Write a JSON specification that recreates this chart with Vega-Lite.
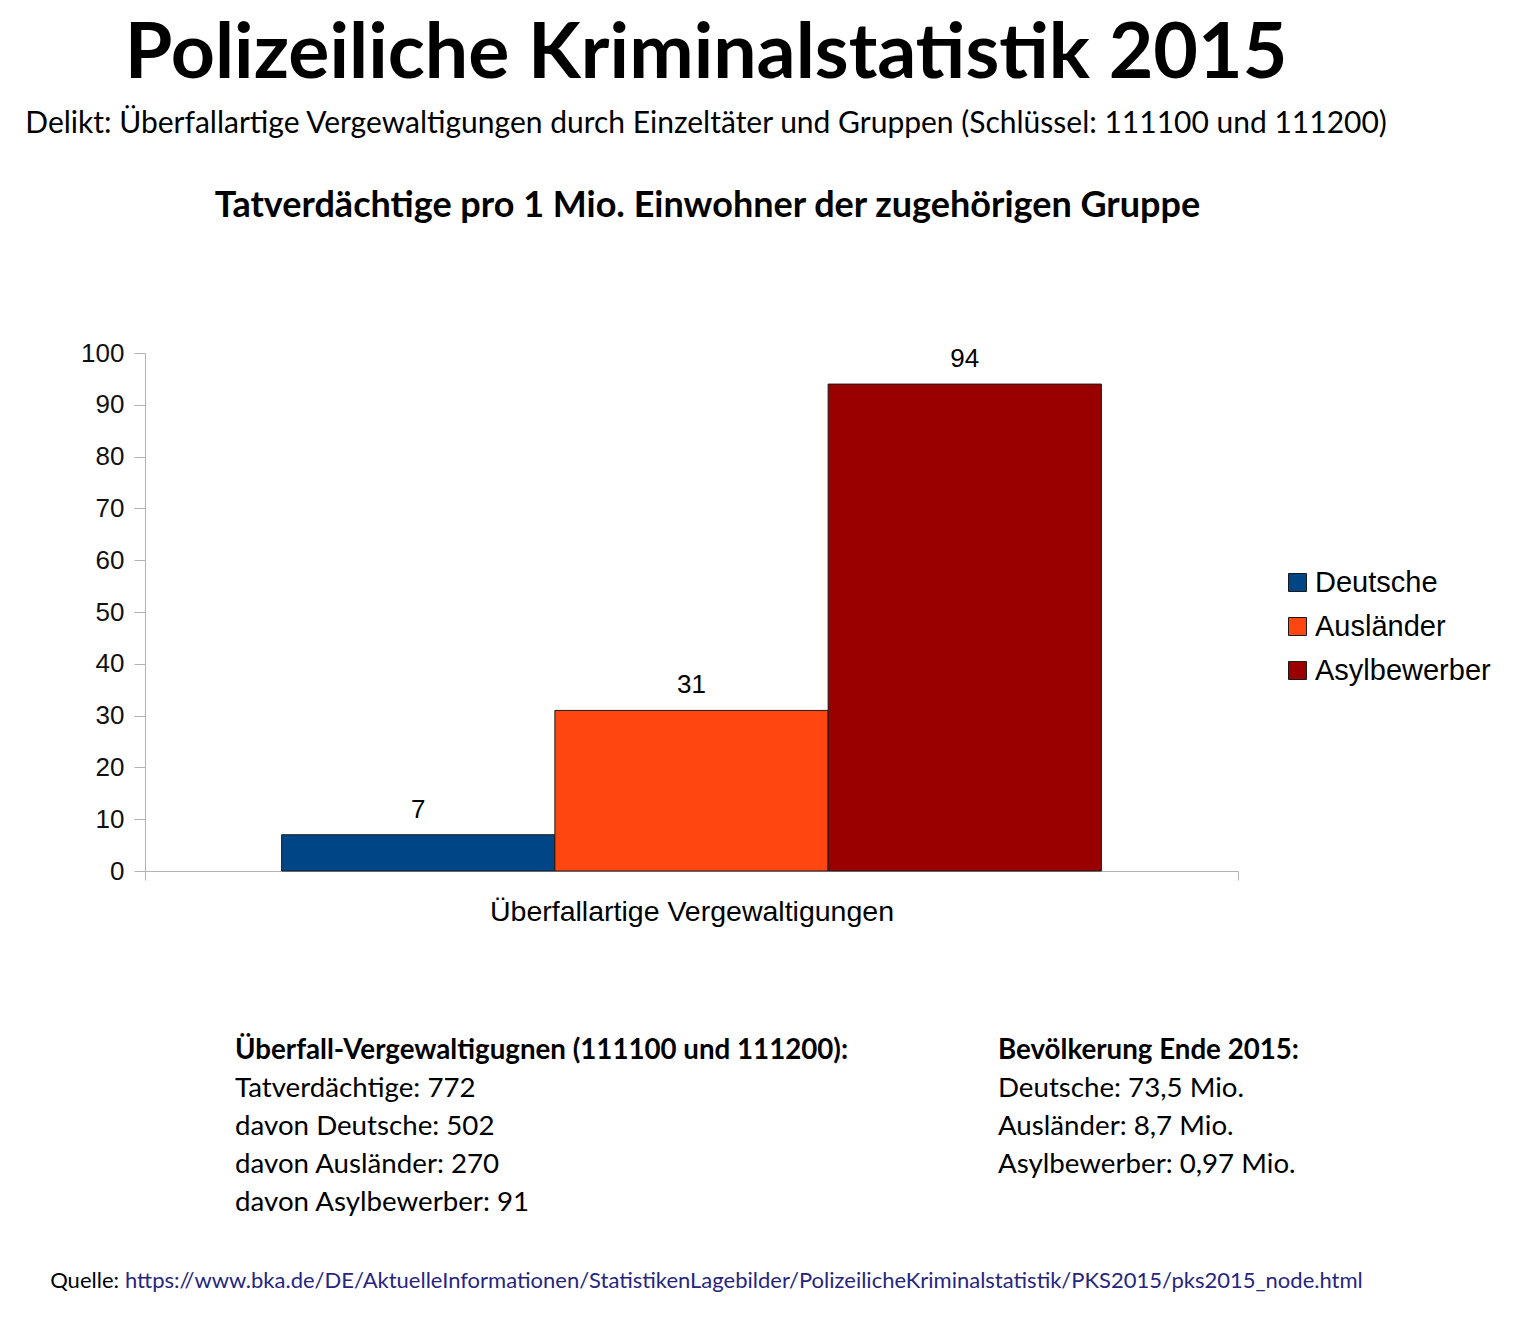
{
  "$schema": "https://vega.github.io/schema/vega-lite/v6.json",
  "background": "white",
  "padding": {"left": 24, "top": 16, "right": 10, "bottom": 10},
  "title": {
    "text": "Polizeiliche Kriminalstatistik 2015",
    "subtitle": "Delikt: Überfallartige Vergewaltigungen durch Einzeltäter und Gruppen (Schlüssel: 111100 und 111200)",
    "anchor": "middle",
    "dx": -64.5,
    "font": "Lato",
    "fontSize": 77,
    "fontWeight": "bold",
    "color": "#000000",
    "subtitleFont": "Lato",
    "subtitleFontSize": 30,
    "subtitleColor": "#000000",
    "subtitlePadding": 15,
    "offset": 48
  },
  "spacing": 38,
  "vconcat": [
    {
      "width": 1093,
      "height": 518,
      "title": {
        "text": "Tatverdächtige pro 1 Mio. Einwohner der zugehörigen Gruppe",
        "frame": "group",
        "anchor": "middle",
        "dx": 16,
        "font": "Lato",
        "fontSize": 36,
        "fontWeight": "bold",
        "color": "#000000",
        "offset": 115
      },
      "data": {
        "values": [
          {"kategorie": "Überfallartige Vergewaltigungen", "gruppe": "Deutsche", "wert": 7},
          {"kategorie": "Überfallartige Vergewaltigungen", "gruppe": "Ausländer", "wert": 31},
          {"kategorie": "Überfallartige Vergewaltigungen", "gruppe": "Asylbewerber", "wert": 94}
        ]
      },
      "encoding": {
        "x": {
          "field": "kategorie",
          "type": "nominal",
          "scale": {"paddingInner": 0, "paddingOuter": 0},
          "axis": {
            "title": null,
            "labelAngle": 0,
            "labelFont": "Liberation Sans",
            "labelFontSize": 28.5,
            "labelColor": "#000000",
            "labelPadding": 17,
            "labelLimit": 800,
            "tickBand": "extent",
            "tickSize": 9,
            "tickColor": "#b3b3b3",
            "domainColor": "#b3b3b3"
          }
        },
        "xOffset": {
          "field": "gruppe",
          "type": "nominal",
          "sort": ["Deutsche", "Ausländer", "Asylbewerber"],
          "scale": {"paddingInner": 0, "paddingOuter": 0.5}
        },
        "y": {
          "field": "wert",
          "type": "quantitative",
          "scale": {"domain": [0, 100]},
          "axis": {
            "title": null,
            "values": [0, 10, 20, 30, 40, 50, 60, 70, 80, 90, 100],
            "grid": false,
            "labelFont": "Liberation Sans",
            "labelFontSize": 26,
            "labelColor": "#111111",
            "labelPadding": 10,
            "tickSize": 11,
            "tickColor": "#b3b3b3",
            "domainColor": "#b3b3b3"
          }
        }
      },
      "layer": [
        {
          "mark": {"type": "bar", "stroke": "#1a1a1a", "strokeWidth": 1},
          "encoding": {
            "color": {
              "field": "gruppe",
              "type": "nominal",
              "sort": ["Deutsche", "Ausländer", "Asylbewerber"],
              "scale": {
                "domain": ["Deutsche", "Ausländer", "Asylbewerber"],
                "range": ["#004586", "#ff4510", "#990000"]
              },
              "legend": {
                "title": null,
                "orient": "none",
                "legendX": 1138,
                "legendY": 215,
                "padding": 0,
                "symbolType": "square",
                "symbolSize": 324,
                "symbolStrokeColor": "#1a1a1a",
                "symbolStrokeWidth": 1,
                "symbolOpacity": 1,
                "labelFont": "Liberation Sans",
                "labelFontSize": 29,
                "labelColor": "#000000",
                "labelOffset": 3,
                "labelLimit": 400,
                "rowPadding": 14
              }
            }
          }
        },
        {
          "mark": {
            "type": "text",
            "baseline": "bottom",
            "dy": -12,
            "font": "Liberation Sans",
            "fontSize": 26,
            "color": "#000000"
          },
          "encoding": {
            "text": {"field": "wert", "type": "quantitative"}
          }
        }
      ]
    },
    {
      "width": 943,
      "height": 258.5,
      "data": {
        "values": [
          {"spalte": "Fälle", "zeile": 1, "kopf": true, "text": "Überfall-Vergewaltigugnen (111100 und 111200):"},
          {"spalte": "Fälle", "zeile": 2, "kopf": false, "text": "Tatverdächtige: 772"},
          {"spalte": "Fälle", "zeile": 3, "kopf": false, "text": "davon Deutsche: 502"},
          {"spalte": "Fälle", "zeile": 4, "kopf": false, "text": "davon Ausländer: 270"},
          {"spalte": "Fälle", "zeile": 5, "kopf": false, "text": "davon Asylbewerber: 91"},
          {"spalte": "Bevölkerung", "zeile": 1, "kopf": true, "text": "Bevölkerung Ende 2015:"},
          {"spalte": "Bevölkerung", "zeile": 2, "kopf": false, "text": "Deutsche: 73,5 Mio."},
          {"spalte": "Bevölkerung", "zeile": 3, "kopf": false, "text": "Ausländer: 8,7 Mio."},
          {"spalte": "Bevölkerung", "zeile": 4, "kopf": false, "text": "Asylbewerber: 0,97 Mio."}
        ]
      },
      "encoding": {
        "x": {
          "field": "spalte",
          "type": "nominal",
          "sort": ["Fälle", "Bevölkerung"],
          "scale": {"type": "point", "padding": 0.118},
          "axis": null
        },
        "y": {
          "field": "zeile",
          "type": "ordinal",
          "scale": {"type": "band", "domain": [1, 2, 3, 4, 5], "paddingInner": 0, "paddingOuter": 0.883, "align": 1},
          "axis": null
        },
        "text": {"field": "text", "type": "nominal"}
      },
      "layer": [
        {
          "transform": [{"filter": "datum.kopf"}],
          "mark": {"type": "text", "align": "left", "font": "Lato", "fontSize": 27.7, "fontWeight": "bold", "color": "#000000"}
        },
        {
          "transform": [{"filter": "!datum.kopf"}],
          "mark": {"type": "text", "align": "left", "font": "Lato", "fontSize": 27.7, "color": "#000000"}
        }
      ]
    },
    {
      "width": 2,
      "height": 39,
      "data": {
        "values": [
          {"bezeichnung": "Quelle:", "url": "https://www.bka.de/DE/AktuelleInformationen/StatistikenLagebilder/PolizeilicheKriminalstatistik/PKS2015/pks2015_node.html"}
        ]
      },
      "layer": [
        {
          "mark": {"type": "text", "align": "right", "dx": -27, "font": "Lato", "fontSize": 22, "color": "#000000"},
          "encoding": {"text": {"field": "bezeichnung", "type": "nominal"}}
        },
        {
          "mark": {"type": "text", "align": "left", "dx": -21, "font": "Lato", "fontSize": 22, "color": "#262680"},
          "encoding": {"text": {"field": "url", "type": "nominal"}}
        }
      ]
    }
  ],
  "config": {
    "view": {"stroke": null},
    "axis": {"labelOverlap": false}
  }
}
